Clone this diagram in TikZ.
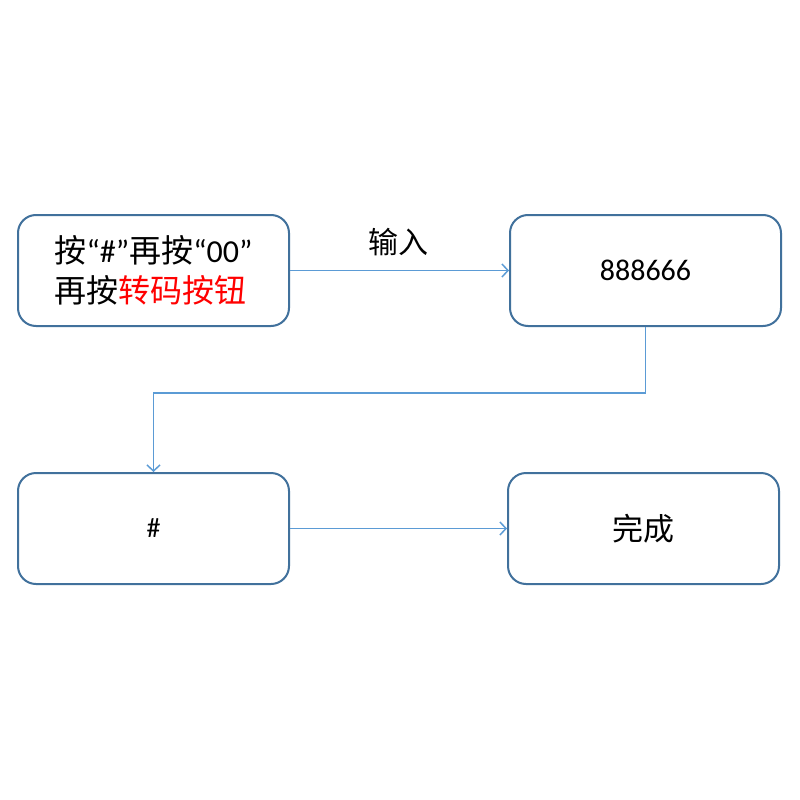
\documentclass[tikz,border=0pt]{standalone}
\usepackage{fontspec}
\setmainfont{Carlito}
\newfontfamily\cjk{Noto Sans CJK SC}
\usetikzlibrary{arrows.meta}
\definecolor{boxblue}{HTML}{41719C}
\definecolor{arrowblue}{HTML}{5B9BD5}
\definecolor{redtxt}{HTML}{FF0000}
\begin{document}
\begin{tikzpicture}[x=1pt,y=-1pt]
\tikzset{
  box/.style={draw=boxblue, line width=2pt, rounded corners=18pt,
    minimum width=271pt, minimum height=111pt, inner sep=0pt, fill=white},
  conn/.style={draw=arrowblue, line width=1.5pt, -{Straight Barb[length=6pt,width=13pt]}},
  lbl/.style={inner sep=0pt}
}
\fill[white] (0,0) rectangle (800,800);
\useasboundingbox (0,0) rectangle (800,800);
\node[box, align=left, font=\fontsize{32}{40}\selectfont] (b1) at (153.5,270.5)
  {{\cjk 按}“\#”{\cjk 再按}“00”\\{\cjk 再按\textcolor{redtxt}{转码按钮}}};
\node[box, font=\fontsize{30}{36}\selectfont] (b2) at (645.5,270.5) {888666};
\node[box, font=\fontsize{28}{34}\selectfont] (b3) at (153.5,528.5) {\#};
\node[box, font=\fontsize{31}{36}\selectfont\cjk] (b4) at (643.5,528.5) {完成};
\node[lbl, font=\fontsize{30}{36}\selectfont\cjk] (l1) at (398,242) {输入};
\coordinate (k) at (153.5,393);
\draw[conn] (b1.east) -- (b2.west);
\draw[conn] (b2.south) |- (k) -- (b3.north);
\draw[conn] (b3.east) -- (b4.west);
\end{tikzpicture}
\end{document}
